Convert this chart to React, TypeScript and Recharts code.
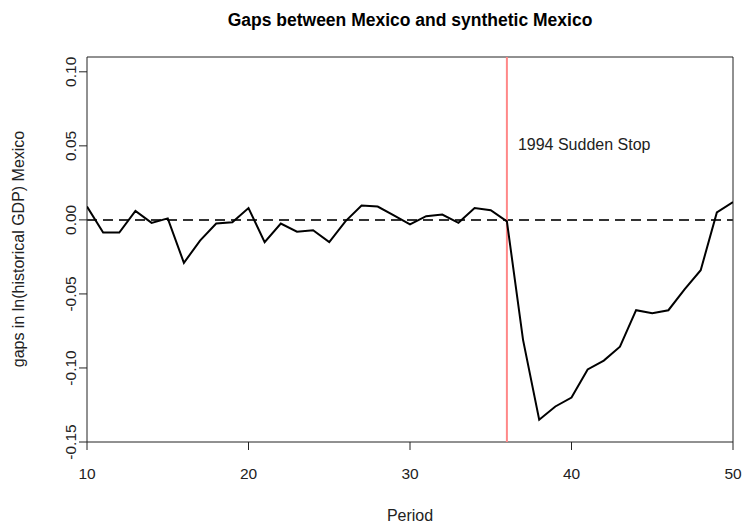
import {
  LineChart,
  Line,
  XAxis,
  YAxis,
  ReferenceLine,
  ReferenceArea,
} from "recharts";

const periods = [
  10, 11, 12, 13, 14, 15, 16, 17, 18, 19, 20, 21, 22, 23, 24, 25, 26, 27, 28, 29,
  30, 31, 32, 33, 34, 35, 36, 37, 38, 39, 40, 41, 42, 43, 44, 45, 46, 47, 48, 49,
  50,
];

const gaps = [
  0.009, -0.0086, -0.0086, 0.006, -0.002, 0.001, -0.029, -0.014, -0.0025,
  -0.0016, 0.008, -0.015, -0.0025, -0.008, -0.007, -0.015, -0.001, 0.0097,
  0.009, 0.003, -0.003, 0.0025, 0.0036, -0.002, 0.008, 0.0065, -0.001, -0.081,
  -0.135, -0.126, -0.12, -0.101, -0.095, -0.0856, -0.061, -0.063, -0.061,
  -0.047, -0.034, 0.005, 0.012,
];

const xTicks = [10, 20, 30, 40, 50];
const yTicks = [-0.15, -0.1, -0.05, 0, 0.05, 0.1];
const yTickLabels = ["-0.15", "-0.10", "-0.05", "0.00", "0.05", "0.10"];
const treatmentPeriod = 36;
const eventLabel = "1994 Sudden Stop";

const data = periods.map((p, i) => ({ period: p, gap: gaps[i] }));

const FONT = '"Liberation Sans", Arial, Helvetica, sans-serif';

function YTick({ y, payload }: any) {
  const idx = yTicks.indexOf(payload.value);
  return (
    <text
      x={76}
      y={y}
      transform={`rotate(-90, 76, ${y})`}
      textAnchor="middle"
      fontSize={15.5}
      fill="#222"
      fontFamily={FONT}
    >
      {idx >= 0 ? yTickLabels[idx] : payload.value}
    </text>
  );
}

function XTick({ x, payload }: any) {
  return (
    <text x={x} y={479} textAnchor="middle" fontSize={15.5} fill="#222" fontFamily={FONT}>
      {payload.value}
    </text>
  );
}

function EventLabel({ viewBox }: any) {
  return (
    <text
      x={viewBox.x + 11}
      y={viewBox.y + 93}
      fontSize={16}
      fill="#222"
      fontFamily={FONT}
    >
      {eventLabel}
    </text>
  );
}

export default function App() {
  return (
    <div style={{ position: "absolute", left: 0, top: 0, width: 743, height: 524, background: "#fff" }}>
      <LineChart
        width={743}
        height={524}
        data={data}
        margin={{ top: 57, right: 10, bottom: 42, left: 47 }}
      >
        <XAxis
          dataKey="period"
          type="number"
          domain={[10, 50]}
          ticks={xTicks}
          allowDataOverflow
          axisLine={false}
          tickSize={8}
          tickLine={{ stroke: "#222" }}
          tick={<XTick />}
          height={40}
        />
        <YAxis
          type="number"
          domain={[-0.15, 0.11]}
          ticks={yTicks}
          allowDataOverflow
          axisLine={false}
          tickSize={8}
          tickLine={{ stroke: "#222" }}
          tick={<YTick />}
          width={40}
        />
        <ReferenceArea
          x1={10}
          x2={50}
          y1={-0.15}
          y2={0.11}
          fill="none"
          stroke="#222"
          strokeWidth={1}
          ifOverflow="visible"
        />
        <ReferenceLine
          y={0}
          stroke="#333"
          strokeWidth={2}
          strokeDasharray="10 6"
        />
        <ReferenceLine
          x={treatmentPeriod}
          stroke="#f88"
          strokeWidth={2}
          label={<EventLabel />}
        />
        <Line
          dataKey="gap"
          stroke="#000"
          strokeWidth={2}
          dot={false}
          isAnimationActive={false}
        />
      </LineChart>
      <svg
        width={743}
        height={524}
        style={{ position: "absolute", left: 0, top: 0, pointerEvents: "none" }}
      >
        <text x={410} y={26} textAnchor="middle" fontSize={17.5} fontWeight="bold" fill="#000" fontFamily={FONT}>
          Gaps between Mexico and synthetic Mexico
        </text>
        <text x={410} y={521} textAnchor="middle" fontSize={16} fill="#222" fontFamily={FONT}>
          Period
        </text>
        <text
          x={24}
          y={249}
          transform="rotate(-90, 24, 249)"
          textAnchor="middle"
          fontSize={16}
          fill="#222"
          fontFamily={FONT}
        >
          gaps in ln(historical GDP) Mexico
        </text>
      </svg>
    </div>
  );
}
